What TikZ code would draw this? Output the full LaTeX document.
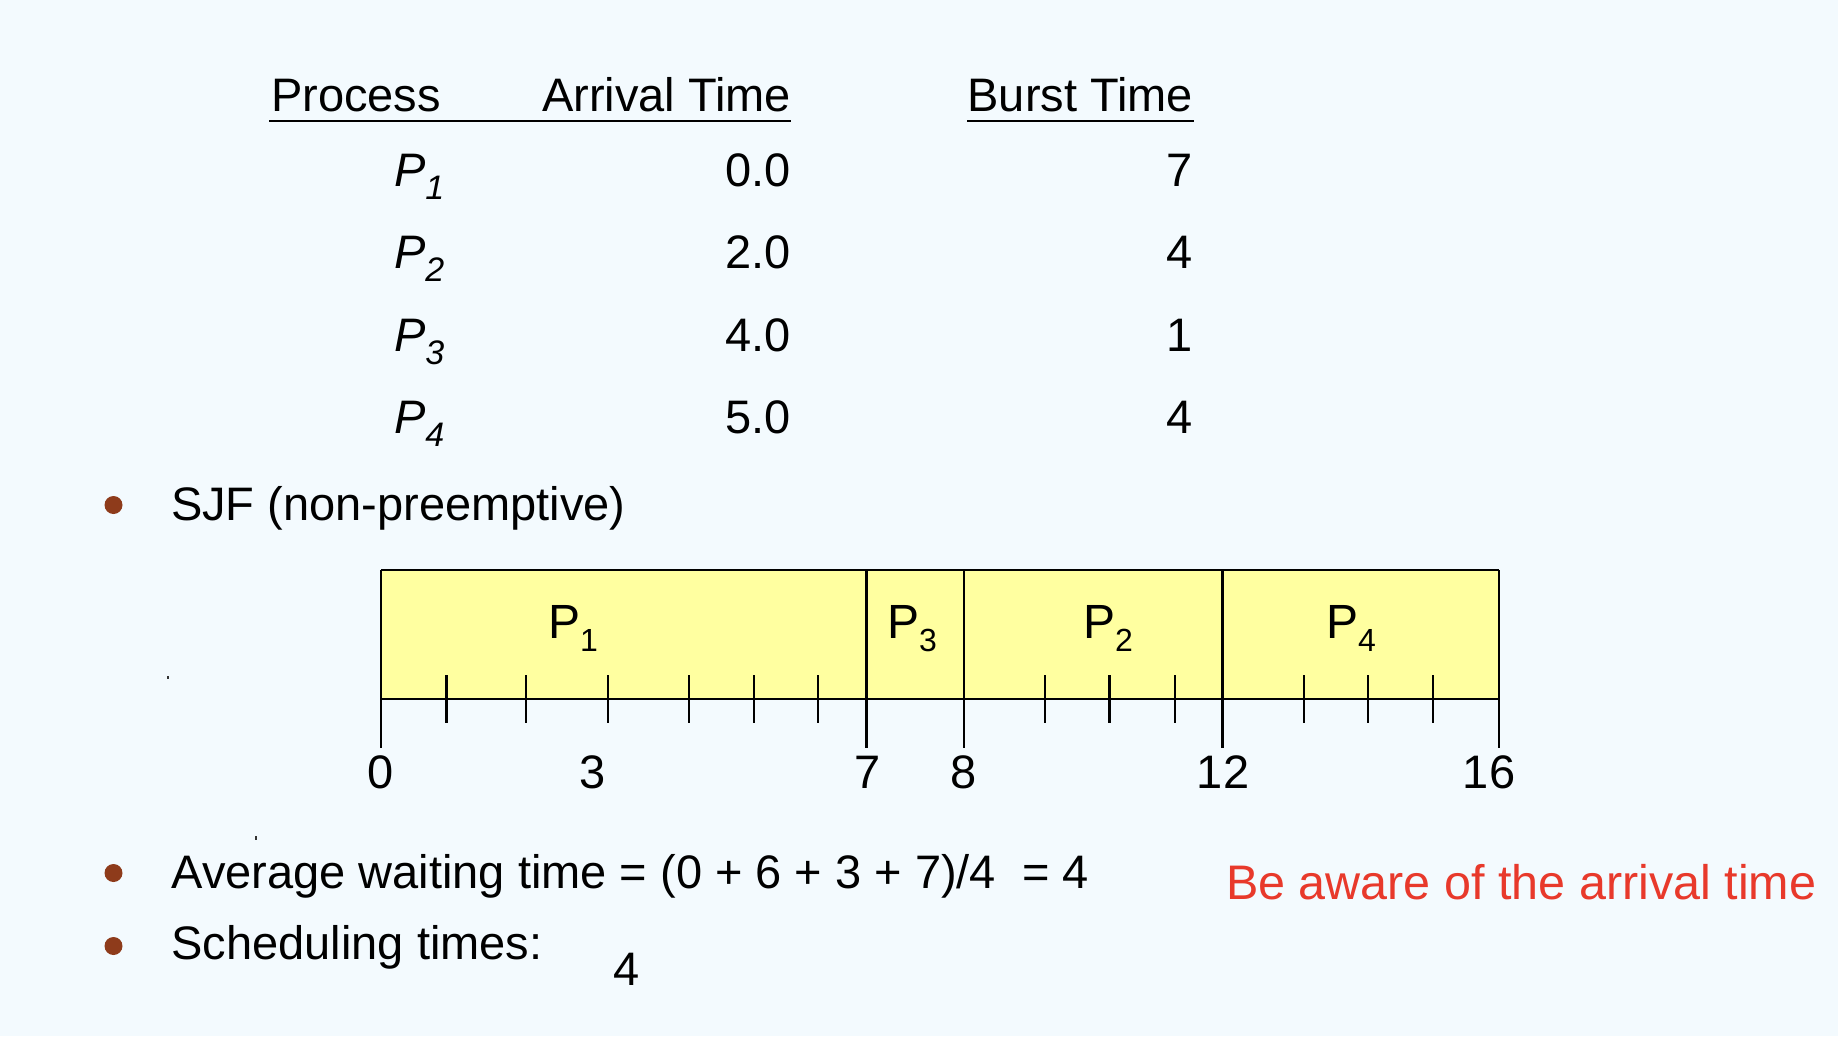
\documentclass[tikz,border=0pt]{standalone}
\usepackage{fontspec}
\setmainfont{Liberation Sans}
\definecolor{bgc}{HTML}{F3FAFE}
\definecolor{ganttfill}{HTML}{FFFFA0}
\definecolor{bulletc}{HTML}{8E3B1B}
\definecolor{warnred}{HTML}{E8392B}
\tikzset{
  txt/.style={inner sep=0pt, outer sep=0pt, font=\fontsize{47}{50}\selectfont},
  gl/.style={inner sep=0pt, outer sep=0pt, font=\fontsize{48}{50}\selectfont, anchor=base west},
  rule/.style={line width=2.2pt},
  bar/.style={line width=2.1pt},
  bul/.style={circle, fill=bulletc, minimum size=18pt, inner sep=0pt},
}
\newcommand{\tp}[1]{\textit{P}\raisebox{-13pt}{\fontsize{34}{34}\selectfont\textit{#1}}}
\newcommand{\gp}[1]{P\raisebox{-13pt}{\fontsize{32}{32}\selectfont #1}}
\begin{document}
\begin{tikzpicture}[x=1pt,y=-1pt]
\fill[bgc] (0,0) rectangle (1838,1036);
\useasboundingbox (0,0) rectangle (1838,1036);
% table header
\node[txt, anchor=base west] (hp) at (271,111.7) {Process};
\node[txt, anchor=base east] (ha) at (791,111.7) {Arrival Time};
\node[txt, anchor=base east] (hb) at (1193,111.7) {Burst Time};
\coordinate (u1a) at (269,120.7); \coordinate (u1b) at (791,120.7);
\coordinate (u2a) at (967,120.7); \coordinate (u2b) at (1194,120.7);
\draw[rule] (u1a) -- (u1b);
\draw[rule] (u2a) -- (u2b);
% rows
\foreach \i/\y/\a/\b in {1/186.5/0.0/7, 2/268.5/2.0/4, 3/351/4.0/1, 4/433/5.0/4}{
  \node[txt, anchor=base west] (p\i) at (394,\y) {\tp{\i}};
  \node[txt, anchor=base east] (a\i) at (791,\y) {\a};
  \node[txt, anchor=base east] (b\i) at (1193,\y) {\b};
}
% bullet 1
\node[bul] (bu1) at (113.5,505) {};
\node[txt, anchor=base west] (sjf) at (171,520) {SJF (non-preemptive)};
% gantt
\coordinate (g0) at (381,570);
\coordinate (g16) at (1498.6,699);
\fill[ganttfill] (g0) rectangle (g16);
\draw[bar] (381,570) -- (1498.6,570);
\draw[bar] (381,699) -- (1498.6,699);
\foreach \x in {381,866.5,963.6,1222.5,1498.6}{
  \draw[bar] (\x,570) -- (\x,748);
}
\foreach \x in {446.5,526.3,608.3,688.9,753.6,817.6,1044.8,1109.5,1175,1303.7,1368.4,1433.2}{
  \draw[bar] (\x,675) -- (\x,723.3);
}
\node[gl] (gp1) at (548,638.5) {\gp{1}};
\node[gl] (gp3) at (887,638.5) {\gp{3}};
\node[gl] (gp2) at (1083,638.5) {\gp{2}};
\node[gl] (gp4) at (1326,638.5) {\gp{4}};
\foreach \x/\l in {381/0, 593/3, 868/7, 963.6/8, 1223/12, 1489/16}{
  \node[txt, anchor=base] (t\l) at (\x,788.5) {\l};
}
% bullets 2,3
\node[bul] (bu2) at (113.5,873) {};
\node[txt, anchor=base west] (avg) at (171.5,888) {Average waiting time = (0 + 6 + 3 + 7)/4\ \ = 4};
\node[bul] (bu3) at (113.5,946) {};
\node[txt, anchor=base west] (sch) at (171.5,959) {Scheduling times:};
\node[txt, anchor=base west] (four) at (613,985) {4};
\node[txt, anchor=base west, text=warnred, font=\fontsize{48.5}{50}\selectfont] (warn) at (1226,899) {Be aware of the arrival time};
% stray marks
\fill[black!80] (166.5,676) rectangle (169,678.5);
\fill[black!80] (255,836) rectangle (257,839.5);
\end{tikzpicture}
\end{document}
